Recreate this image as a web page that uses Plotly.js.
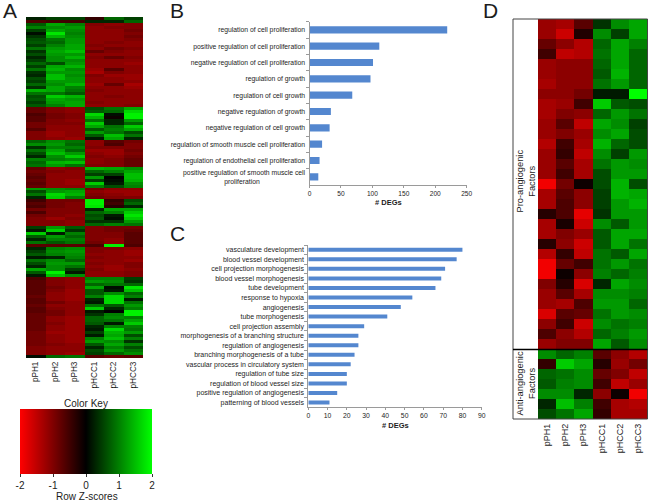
<!DOCTYPE html>
<html><head><meta charset="utf-8">
<script src="https://cdn.plot.ly/plotly-3.0.1.min.js"></script>
<style>html,body{margin:0;padding:0;background:#fff}</style></head>
<body><div id="chart" style="width:648px;height:503px"></div>
<script>
const samples = ["pPH1","pPH2","pPH3","pHCC1","pHCC2","pHCC3"];

// Panel A: rows of Z-scores, top to bottom, in visual blocks
const aTop = [[0.25,0.5,0.5,-0.4,0.8,0.5],[-0.6,-0.5,-0.5,0.3,0.3,0.8]];
const aBlock1 = [
[0.7,1.3,1.0,-1.0,-1.1,-1.0],[1.0,1.1,1.2,-1.1,-1.0,-1.0],[0.5,1.3,1.1,-1.1,-1.1,-0.9],[0.1,1.8,1.0,-1.1,-1.1,-1.0],
[0.4,1.4,1.1,-1.1,-1.1,-0.9],[0.6,0.9,1.2,-1.1,-1.1,-1.0],[0.7,0.8,1.2,-1.1,-1.0,-1.1],[0.5,1.0,1.3,-1.0,-1.1,-1.1],
[0.9,1.2,1.3,-1.1,-0.9,-1.0],[0.4,1.3,1.5,-0.8,-1.0,-1.1],[0.6,1.2,1.2,-1.1,-1.1,-1.1],[0.3,1.1,1.4,-1.0,-0.8,-1.0],
[0.5,1.1,1.1,-1.1,-1.1,-1.1],[0.8,0.6,1.2,-1.1,-1.1,-1.2],[0.5,1.3,1.4,-1.1,-1.1,-1.1],[0.9,1.4,1.1,-1.2,-0.7,-1.1],
[0.4,1.2,1.2,-1.3,-1.0,-1.1],[0.3,1.5,1.1,-1.0,-1.2,-1.2],[0.6,1.5,1.2,-1.1,-1.1,-1.2],[0.5,1.2,1.2,-1.1,-1.1,-1.1],
[0.8,1.1,1.4,-1.2,-0.8,-1.3],[0.4,1.3,1.0,-1.1,-1.1,-1.2],[1.4,1.3,0.9,-1.0,-1.1,-1.1],[0.9,0.9,0.7,-1.1,-1.1,-1.1],
[0.6,1.6,1.4,-1.1,-1.0,-1.1],[0.7,1.3,1.2,-1.1,-1.1,-1.1],[0.5,1.2,1.3,-1.0,-1.1,-1.1],[0.7,1.0,1.3,-1.1,-1.1,-1.0]];
const aBlock2 = [
[-0.8,-1.0,-1.1,0.6,0.9,1.3],[-0.8,-1.0,-1.1,0.7,0.8,1.7],[-0.6,-0.9,-1.0,1.7,0.1,1.9],[-0.7,-0.9,-1.0,1.4,-0.1,1.9],
[-0.7,-1.0,-1.1,0.9,0.3,1.2],[-0.9,-1.0,-1.0,1.6,0.3,0.8],[-0.9,-1.1,-1.1,1.3,0.9,1.6],[-0.7,-1.1,-1.1,0.7,1.0,1.3],
[-1.0,-1.2,-1.1,1.2,0.9,0.6],[-1.0,-1.2,-1.1,0.7,1.5,0.9],[-1.0,-1.1,-1.2,0.2,1.3,0.3]];
const aBlock3 = [
[0.8,1.1,0.9,-1.1,-0.7,-0.9],[1.1,1.2,0.8,-1.1,-0.6,-1.0],[0.4,1.0,1.0,-1.0,-1.0,-1.0],[0.9,1.3,0.8,-1.2,-1.2,-0.9],
[0.6,1.5,1.2,-1.1,-1.2,-1.0],[0.3,1.1,1.6,-1.0,-1.1,-0.9],[1.0,1.0,1.1,-1.1,-1.0,-0.8],[0.8,1.4,1.5,-1.1,-1.0,-0.8],
[0.9,1.2,0.9,-1.0,-1.0,-0.8]];
const aBlock4 = [
[-0.8,-1.1,-1.0,1.4,1.3,1.1],[-0.9,-1.0,-1.1,0.8,1.0,1.3],[-0.8,-1.1,-1.1,0.5,0.5,1.5],[-0.7,-1.1,-1.1,1.2,0.0,1.5],
[-0.8,-1.1,-1.2,0.5,0.1,1.4],[-0.7,-1.1,-1.2,1.6,0.2,1.1],[-0.8,-1.1,-1.1,1.0,0.6,1.0]];
const aBlock5 = [
[1.2,1.1,1.0,-0.9,-1.1,-1.1],[0.6,1.2,1.3,-1.1,-1.2,-1.2],[0.9,1.7,1.4,-1.0,-1.1,-1.2],[0.3,1.6,1.0,-0.9,-1.0,-1.0]];
const aBlock6 = [
[-0.5,-0.9,-0.9,1.9,-0.4,0.6],[-0.7,-0.9,-1.0,1.9,-0.5,0.8],[-0.6,-0.9,-1.0,1.8,-0.3,0.3],[-0.9,-1.0,-1.0,0.3,1.3,1.3],
[-0.6,-1.0,-1.0,0.8,1.0,1.6],[-0.9,-1.0,-1.1,0.6,0.2,1.8],[-1.0,-1.2,-1.0,0.7,0.1,1.6],[-1.0,-1.0,-1.1,0.4,0.4,1.2],
[-1.0,-1.0,-1.1,0.8,1.0,0.9]];
const aBlock7 = [
[0.5,1.2,0.7,-1.0,-0.9,-0.9],[0.2,1.6,0.4,-1.0,-0.9,-0.8],[1.6,0.2,1.0,-1.0,-1.0,-0.7],[0.7,1.2,0.8,-1.0,-1.0,-0.7],
[0.3,1.0,1.0,-1.0,-1.1,-0.7],[0.9,0.7,0.9,-0.9,-1.1,-0.7]];
const aBlock8 = [
[-0.7,-0.7,-0.7,-0.6,1.9,-0.6],[0.3,1.0,1.1,-1.0,-1.0,-1.1],[0.5,1.1,1.2,-1.0,-1.1,-1.2],[0.7,1.0,1.1,-1.1,-1.1,-1.2],
[0.2,0.3,1.0,-1.0,-1.1,-1.1],[0.9,1.1,0.8,-1.1,-1.1,-1.2],[0.6,1.2,1.2,-1.0,-1.1,-1.0],[0.3,1.1,0.9,-1.1,-1.2,-1.0],
[1.3,1.1,0.5,-1.0,-1.2,-1.1],[0.7,1.9,0.2,-1.1,-1.1,-1.0],[0.2,1.5,1.1,-1.1,-1.1,-1.0]];
const aBlock9 = [
[-0.6,-1.0,-1.1,1.0,1.0,0.5],[-0.7,-1.0,-1.1,1.2,1.1,0.4],[-0.7,-1.0,-1.1,0.8,0.9,0.8],[-0.7,-0.9,-1.1,1.3,0.1,1.8],
[-0.7,-1.0,-1.2,0.7,0.2,1.5],[-0.7,-1.1,-1.2,0.7,1.1,0.8],[-0.8,-1.1,-1.2,1.0,1.7,1.0],[-0.7,-1.1,-1.2,0.3,1.7,0.2],
[-0.7,-0.9,-1.1,0.2,1.7,0.9],[-0.8,-1.1,-1.1,0.9,0.7,1.2],[-0.7,-1.0,-1.1,1.6,0.3,1.0],[-0.7,-0.9,-1.1,0.2,0.0,1.9],
[-0.8,-0.9,-1.1,0.4,1.0,1.9],[-0.8,-1.1,-1.2,0.8,1.1,1.0],[-0.8,-1.1,-1.2,0.8,0.9,1.3],[-0.8,-1.0,-1.2,0.7,0.2,1.6],
[-0.8,-1.1,-1.2,0.3,1.0,1.0],[-0.8,-1.1,-1.2,0.2,1.7,0.9],[-0.9,-1.2,-1.2,0.5,1.4,1.2],[-0.9,-1.1,-1.2,0.2,1.3,0.6],
[-0.9,-1.1,-1.2,1.0,1.5,1.0],[-0.9,-1.1,-1.2,1.2,1.1,0.4],[-0.9,-1.0,-1.1,0.7,1.3,1.0],[-1.0,-1.1,-1.1,0.3,1.0,0.6],
[-1.0,-1.1,-1.1,0.6,1.2,0.9],[-1.0,-1.1,-1.2,0.5,0.8,1.1]];
const aBottom = [[0.1,0.8,0.9,-0.7,-0.8,-0.7]];

// Panel B
const bTerms = ["regulation of cell proliferation","positive regulation of cell proliferation","negative regulation of cell proliferation","regulation of growth","regulation of cell growth","negative regulation of growth","negative regulation of cell growth","regulation of smooth muscle cell proliferation","regulation of endothelial cell proliferation","positive regulation of smooth muscle cell<br>proliferation"+"\u00A0".repeat(24)];
const bCounts = [219,111,101,97,68,34,32,20,16,14];

// Panel C
const cTerms = ["vasculature development","blood vessel development","cell projection morphogenesis","blood vessel morphogenesis","tube development","response to hypoxia","angiogenesis","tube morphogenesis","cell projection assembly","morphogenesis of a branching structure","regulation of angiogenesis","branching morphogenesis of a tube","vascular process in circulatory system","regulation of tube size","regulation of blood vessel size","positive regulation of angiogenesis","patterning of blood vessels"];
const cCounts = [80,77,71,69,66,54,48,41,29,26,26,24,22,20,20,15,11];

// Panel D
const dPro = [
[-1.2,-1.3,-0.7,0.4,1.1,1.3],[-1.2,-1.6,-0.25,1.1,0.5,1.3],[-0.8,-1.1,-1.4,0.8,1.3,1.0],[-0.5,-1.5,-1.4,0.9,1.3,0.8],
[-1.2,-1.1,-1.1,0.8,1.3,0.8],[-1.2,-1.1,-1.1,0.7,1.4,0.8],[-1.3,-1.1,-1.1,0.9,1.2,0.8],[-1.1,-1.1,-0.9,0.2,0.2,2.0],
[-1.3,-1.2,-0.5,1.6,0.7,0.6],[-1.3,-1.0,-1.1,0.8,1.2,0.9],[-1.2,-0.7,-1.5,1.3,1.1,0.5],[-1.2,-1.0,-1.2,1.1,1.3,0.6],
[-1.4,-0.5,-1.3,1.4,0.8,0.6],[-1.2,-0.4,-1.5,1.1,0.5,1.2],[-1.2,-0.7,-1.3,0.9,1.2,1.1],[-1.2,-0.5,-1.3,0.6,1.2,1.2],
[-1.9,-0.9,-0.1,0.6,1.4,0.6],[-1.3,-0.7,-1.1,0.5,1.4,1.3],[-1.3,-0.6,-1.1,0.5,1.2,1.4],[-0.3,-0.6,-1.8,0.4,1.2,1.2],
[-1.3,-0.2,-1.6,1.1,0.7,1.2],[-1.3,-1.0,-1.2,0.7,1.3,1.3],[-0.3,-1.1,-1.6,0.7,1.3,0.9],[-1.4,-0.4,-1.5,0.9,0.7,1.3],
[-1.9,-0.8,-0.5,0.9,1.2,0.9],[-1.9,-0.1,-1.1,1.0,0.8,1.0],[-1.0,-0.3,-1.7,0.3,1.3,1.1],[-1.2,-0.7,-1.3,1.1,1.1,1.0],
[-1.2,-1.3,-0.6,1.2,1.2,0.8],[-1.7,-0.7,-0.8,0.9,1.2,1.1],[-1.1,-0.5,-1.6,1.1,0.9,1.0],[-0.6,-1.1,-1.4,0.8,1.0,1.2],
[-1.2,-1.0,-1.0,1.3,0.7,1.1]];
const dAnti = [
[1.1,0.8,1.0,-0.7,-1.1,-1.4],[-0.4,1.6,1.3,-0.3,-1.2,-0.9],[0.8,0.9,1.1,-0.8,-1.0,-1.5],[0.7,1.0,1.1,-0.5,-1.5,-1.2],
[1.1,1.1,0.3,-1.1,-0.1,-1.9],[0.3,1.5,1.0,-0.5,-1.3,-1.4],[0.6,0.9,1.3,-0.4,-1.3,-1.3]];

const W=648,H=503,FONT="Liberation Sans, Arial, sans-serif",TXT="#1c1c1c";
const dx=(a,b)=>[a/W,b/W], dy=(t,b)=>[1-b/H,1-t/H], px=x=>x/W, py=y=>1-y/H;
const aZ=[].concat(aTop,aBlock1,aBlock2,aBlock3,aBlock4,aBlock5,aBlock6,aBlock7,aBlock8,aBlock9,aBottom);
const dZ=[].concat(dPro,dAnti);
const BAR="#5487cf";

const traces=[
 {type:"heatmap",z:aZ,x:samples,coloraxis:"coloraxis",xaxis:"x",yaxis:"y",hoverinfo:"z",xgap:0,ygap:0},
 {type:"heatmap",z:dZ,x:samples,coloraxis:"coloraxis",xaxis:"x4",yaxis:"y4",hoverinfo:"z"},
 {type:"bar",orientation:"h",x:bCounts,y:bTerms,xaxis:"x2",yaxis:"y2",width:0.44,marker:{color:BAR,line:{width:0}}},
 {type:"bar",orientation:"h",x:cCounts,y:cTerms,xaxis:"x3",yaxis:"y3",width:0.42,marker:{color:BAR,line:{width:0}}}
];
const hmX=(d,size,a,so)=>({domain:d,anchor:a,type:"category",showgrid:false,zeroline:false,showline:false,ticks:"",tickangle:-90,ticklabelstandoff:so,tickfont:{family:FONT,size:size,color:TXT},fixedrange:true});
const hmY=(d,a)=>({domain:d,anchor:a,autorange:"reversed",showticklabels:false,showgrid:false,zeroline:false,showline:false,ticks:""});
const barX=(d,r,dt,size,a)=>({domain:d,anchor:a,range:r,dtick:dt,showgrid:false,zeroline:false,showline:true,linecolor:"#9a9a9a",linewidth:1,ticks:"outside",ticklen:2,tickcolor:"#9a9a9a",tickfont:{family:FONT,size:size,color:TXT}});
const barY=(d,size,a)=>({domain:d,anchor:a,type:"category",autorange:"reversed",showgrid:false,zeroline:false,showline:true,linecolor:"#9a9a9a",linewidth:1,ticks:"outside",ticklen:3,tickcolor:"#9a9a9a",tickson:"boundaries",ticklabelstandoff:2,tickfont:{family:FONT,size:size,color:TXT}});
const note=(text,x,y,size,extra)=>Object.assign({text,xref:"paper",yref:"paper",x:px(x),y:py(y),xanchor:"center",yanchor:"middle",showarrow:false,font:{family:FONT,size,color:TXT}},extra||{});

const layout={
 width:W,height:H,margin:{l:0,r:0,t:0,b:0},paper_bgcolor:"#fff",plot_bgcolor:"rgba(0,0,0,0)",showlegend:false,
 font:{family:FONT,color:TXT},
 coloraxis:{cmin:-2,cmax:2,colorscale:[[0,"#ff0000"],[0.5,"#000000"],[1,"#00ff00"]],
  colorbar:{orientation:"h",x:px(86),xanchor:"center",y:py(409),yanchor:"top",len:132,lenmode:"pixels",thickness:65,thicknessmode:"pixels",xpad:0,ypad:0,outlinewidth:0,ticks:"outside",ticklen:3,tickcolor:"#333",tickvals:[-2,-1,0,1,2],ticktext:["-2","-1","0","1","2"],tickfont:{family:FONT,size:10,color:TXT}}},
 xaxis:hmX(dx(26,143),8.2,"y",1),yaxis:hmY(dy(17,358),"x"),
 xaxis4:hmX(dx(538,647),9,"y4",2),yaxis4:hmY(dy(19,419),"x4"),
 xaxis2:barX(dx(309.5,466.7),[0,250],50,6.6,"y2"),yaxis2:barY(dy(21.7,185),6.8,"x2"),
 xaxis3:barX(dx(308.3,481.7),[0,90],10,6.8,"y3"),yaxis3:barY(dy(245,407.3),7,"x3"),
 annotations:[
  note("A",10,11,21),note("B",177,10,21),note("C",177,233,21),note("D",490,10,21),
  note("Color Key",86,403,10),note("Row Z-scores",87,496,10),
  note("<b># DEGs</b>",388,203,7.5),note("<b># DEGs</b>",395,425,7.5),
  note("Pro-angiogenic<br>Factors",525.5,181,9.3,{textangle:-90}),
  note("Anti-angiogenic<br>Factors",525.5,384,9.3,{textangle:-90})
 ],
 shapes:[
  {type:"rect",xref:"paper",yref:"paper",x0:px(513),x1:px(647.5),y0:py(419),y1:py(19),line:{color:"#444",width:1}},
  {type:"line",xref:"paper",yref:"paper",x0:px(513),x1:px(647.5),y0:py(349.5),y1:py(349.5),line:{color:"#000",width:1.5}}
 ]
};
Plotly.newPlot("chart",traces,layout,{displayModeBar:false,staticPlot:true});
</script></body></html>
